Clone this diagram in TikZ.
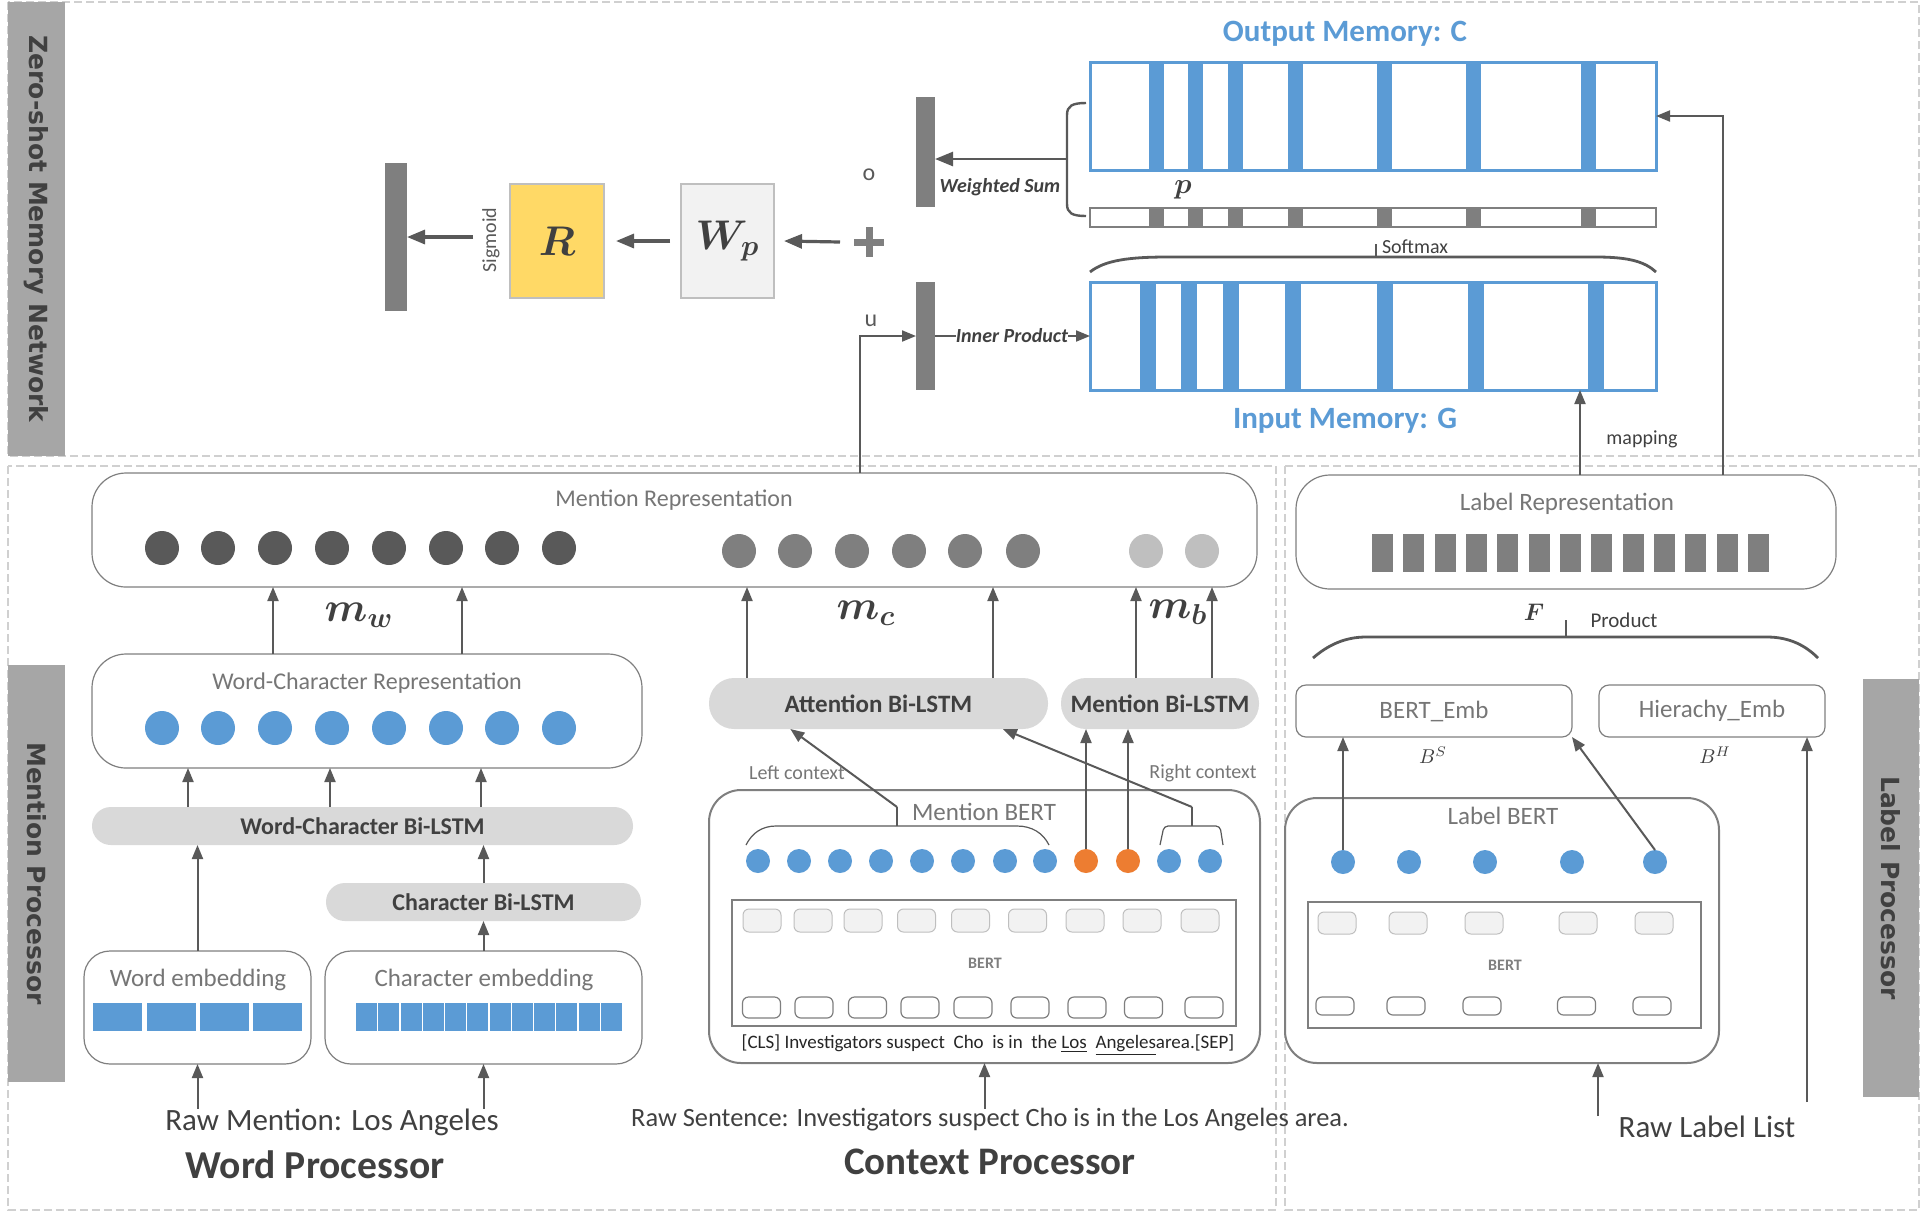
\documentclass[tikz,border=0pt]{standalone}
\usepackage{fontspec}
\setmainfont{Carlito}
\newfontfamily\bandfont{DejaVu Sans}
\usepackage{amsmath}
\usetikzlibrary{arrows.meta,calc}
\definecolor{ablue}{HTML}{5B9BD5}
\definecolor{aorange}{HTML}{ED7D31}
\definecolor{ayellow}{HTML}{FFD966}
\definecolor{dgrey}{HTML}{595959}
\definecolor{mgrey}{HTML}{7F7F7F}
\definecolor{lgrey}{HTML}{BFBFBF}
\definecolor{pillgrey}{HTML}{D9D9D9}
\definecolor{bandgrey}{HTML}{A6A6A6}
\definecolor{tgrey}{HTML}{404040}
\definecolor{labgrey}{HTML}{767676}
\definecolor{dashgrey}{HTML}{D0D0D0}
\definecolor{boxfill}{HTML}{F2F2F2}
\newcommand{\myfs}[1]{\fontsize{#1pt}{#1pt}\selectfont}
\begin{document}
\begin{tikzpicture}[x=0.5pt,y=-0.5pt,
  every node/.style={inner sep=0pt, outer sep=0pt},
  wh/.style 2 args={minimum width={#1*0.5pt},minimum height={#2*0.5pt}},
  arr/.style={draw=dgrey, line width=1pt, -{Triangle[length=7pt,width=5.5pt]}},
  bigarr/.style={draw=dgrey, line width=1.6pt, -{Triangle[length=9pt,width=7pt]}},
  region/.style={draw=dashgrey, line width=0.6pt, dash pattern=on 4pt off 2pt},
  band/.style={fill=bandgrey, draw=none},
  bandtxt/.style={font={\bandfont\bfseries\myfs{12.5}}, text=tgrey, rotate=-90},
  rbox/.style={draw=mgrey, line width=0.6pt, rounded corners=17pt, fill=white},
  pill/.style={fill=pillgrey, font={\bfseries\myfs{12}}, text=tgrey},
  lab/.style={text=labgrey, font={\myfs{12}}},
  small/.style={text=tgrey, font={\myfs{10}}},
  topbox/.style={fill=boxfill, draw=lgrey, line width=0.5pt, rounded corners=3pt},
  botbox/.style={fill=white, draw=mgrey, line width=0.6pt, rounded corners=3pt},
  thinline/.style={draw=dgrey, line width=0.6pt},
  memtitle/.style={font={\bfseries\myfs{15.5}}, text=ablue},
  mlabel/.style={font={\myfs{21}}, text=tgrey}
]
\useasboundingbox (0,0) rectangle (1922,1212);

% regions
\draw[region] (8,2) rectangle (1919,456);
\draw[region] (8,466) rectangle (1276,1210);
\draw[region] (1285,466) rectangle (1919,1210);

% side bands
\node[band, wh={57}{454}] (bandZ) at (36.5,229) {};
\node[bandtxt] (bandZt) at (bandZ) {Zero-shot Memory Network};
\node[band, wh={57}{417}] (bandM) at (36.5,873.5) {};
\node[bandtxt] (bandMt) at (bandM) {Mention Processor};
\node[band, wh={56}{418}] (bandL) at (1891,888) {};
\node[bandtxt] (bandLt) at (bandL) {Label Processor};

% ===== top: memory network =====
\node[fill=mgrey, wh={22}{148}] (sbar) at (396,237) {};
\node[fill=ayellow, draw=lgrey, line width=0.6pt, wh={94}{114}, font={\myfs{20}}, text=tgrey] (R) at (557,241) {$\boldsymbol{R}$};
\node[font={\myfs{10}}, text=dgrey, rotate=90] (sig) at (491,240) {Sigmoid};
\node[fill=boxfill, draw=lgrey, line width=0.6pt, wh={93}{114}, font={\myfs{20}}, text=tgrey] (Wp) at (727.5,241) {$\boldsymbol{W_p}$};
\node[wh={30}{30}] (plus) at (869,242) {};
\draw[mgrey, line width=3.5pt] (plus.north) -- (plus.south) (plus.west) -- (plus.east);
\node[font={\myfs{12}}, text=dgrey] (o) at (869,175) {o};
\node[font={\myfs{12}}, text=dgrey] (u) at (871,321) {u};
\node[fill=mgrey, wh={19}{110}] (obar) at (925.5,152) {};
\node[fill=mgrey, wh={19}{108}] (ubar) at (925.5,336) {};

\draw[bigarr] ($(plus.west)+(-14,0)$) -- ($(Wp.east)+(10,0)$);
\draw[bigarr] ($(Wp.west)+(-11,0)$) -- ($(R.east)+(12,0)$);
\draw[bigarr] ($(sbar.east)+(66,0)$) -- (sbar.east);

% output memory
\foreach \x in {1156,1195.5,1235.5,1295.5,1384.5,1473,1588.5}
  \fill[ablue] (\x-7.5,62) rectangle (\x+7.5,170);
\node[draw=ablue, line width=1.5pt, wh={566}{108}] (outmem) at (1373,116) {};
% p bar
\foreach \x in {1156,1195.5,1235.5,1295.5,1384.5,1473,1588.5}
  \fill[mgrey] (\x-7.5,208) rectangle (\x+7.5,227);
\node[draw=mgrey, line width=1.2pt, wh={566}{19}] (pbar) at (1373,217.5) {};
% input memory
\foreach \x in {1148,1189,1230.5,1293,1384.5,1475.5,1596}
  \fill[ablue] (\x-8,282) rectangle (\x+8,390);
\node[draw=ablue, line width=1.5pt, wh={566}{108}] (inmem) at (1373,336) {};

\node[memtitle] (outt) at (1345,34) {Output Memory: C};
\node[memtitle] (int) at (1345,421) {Input Memory: G};

% weighted sum brace
\draw[dgrey, line width=1.2pt] (1086,103) .. controls (1072,103) and (1067,106) .. (1067,115) -- (1067,204) .. controls (1067,213) and (1072,216) .. (1086,216);
\coordinate (ws) at (1067,159);
\draw[bigarr, line width=1.3pt] (ws) -- (ws -| obar.east);
\node[font={\bfseries\itshape\myfs{10}}, text=tgrey] (wst) at (1000,187) {Weighted Sum};
\node[font={\myfs{14}}, text=tgrey] (plab) at (1183,190) {$\boldsymbol{p}$};

% softmax brace
\draw[dgrey, line width=1.4pt] (1090,272) .. controls (1105,260) and (1130,257) .. (1168,257) -- (1596,257) .. controls (1630,257) and (1645,262) .. (1656,272);
\coordinate (smt) at (1376,257);
\draw[dgrey, line width=1pt] (smt) -- ++(0,-13);
\node[anchor=west, small] (smx) at (1382,247) {Softmax};

% inner product
\node[font={\bfseries\itshape\myfs{10}}, text=tgrey] (ip) at (1012,336) {Inner Product};
\draw[dgrey, line width=1pt] (ubar.east) -- (ip.west);
\draw[arr] (ip.east) -- (inmem.west);

% ===== mention representation =====
\node[rbox, wh={1165}{114}] (menrep) at (674.5,530) {};
\node[lab] (menrept) at (674,500) {Mention Representation};
\foreach \x [count=\i] in {162,218,275,332,389,446,502,559}
  \node[circle, fill=dgrey, wh={34}{34}] (md\i) at (\x,548) {};
\foreach \x [count=\i] in {739,795,852,909,965,1023}
  \node[circle, fill=mgrey, wh={34}{34}] (mg\i) at (\x,551) {};
\foreach \x [count=\i] in {1146,1202}
  \node[circle, fill=lgrey, wh={34}{34}] (ml\i) at (\x,551) {};

% u arrow
\coordinate (ucor) at (860,336);
\draw[arr] (ucor |- menrep.north) |- (ubar.west);

% word-character representation
\node[rbox, wh={550}{114}] (wcrep) at (367,711) {};
\node[lab] (wcrept) at (367,683) {Word-Character Representation};
\foreach \x [count=\i] in {162,218,275,332,389,446,502,559}
  \node[circle, fill=ablue, wh={34}{34}] (wc\i) at (\x,728) {};

\coordinate (mwa) at (273,0);
\coordinate (mwb) at (462,0);
\draw[arr] (mwa |- wcrep.north) -- (mwa |- menrep.south);
\draw[arr] (mwb |- wcrep.north) -- (mwb |- menrep.south);
\node[mlabel] (mw) at (359,615) {$\boldsymbol{m_w}$};

\node[pill, wh={541}{38}, rounded corners=9.4pt] (wcbil) at (362.5,826) {Word-Character Bi-LSTM};
\foreach \x [count=\i] in {188,330,481} {
  \coordinate (wca\i) at (\x,0);
  \draw[arr] (wca\i |- wcbil.north) -- (wca\i |- wcrep.south);
}
\node[pill, wh={315}{38}, rounded corners=9.4pt] (cbil) at (483.5,902) {Character Bi-LSTM};
\draw[arr] (cbil.north) -- (cbil.north |- wcbil.south);

% embeddings
\node[rbox, rounded corners=13pt, wh={227}{113}] (wemb) at (197.5,1007.5) {};
\node[lab, font={\myfs{12.5}}] (wembt) at (198,980) {Word embedding};
\foreach \x in {93,146.5,200,252.5}
  \fill[ablue] (\x,1003) rectangle +(49,28);
\node[rbox, rounded corners=13pt, wh={317}{113}] (cemb) at (483.5,1007.5) {};
\node[lab, font={\myfs{12.5}}] (cembt) at (484,980) {Character embedding};
\foreach \i in {0,...,11}
  \fill[ablue] (356+\i*22.25,1003) rectangle +(21.2,28);
\draw[arr] (wemb.north) -- (wemb.north |- wcbil.south);
\draw[arr] (cemb.north) -- (cemb.north |- cbil.south);

\node[font={\myfs{15.5}}, text=tgrey] (rawm) at (332,1122) {Raw Mention: Los Angeles};
\draw[arr] (wemb.south |- rawm.north) -- (wemb.south);
\draw[arr] (cemb.south |- rawm.north) -- (cemb.south);
\node[font={\bfseries\myfs{19.8}}, text=tgrey] (wproc) at (315,1165) {Word Processor};

% ===== context =====
\node[pill, font={\bfseries\myfs{12.5}}, wh={339}{51}, rounded corners=12.5pt] (attn) at (878.5,703.5) {Attention Bi-LSTM};
\node[pill, font={\bfseries\myfs{12.5}}, wh={198}{51}, rounded corners=12.5pt] (mbil) at (1160,703.5) {Mention Bi-LSTM};
\foreach \x [count=\i] in {747,993} {
  \coordinate (mca\i) at (\x,0);
  \draw[arr] (mca\i |- attn.north) -- (mca\i |- menrep.south);
}
\foreach \x [count=\i] in {1136,1212} {
  \coordinate (mba\i) at (\x,0);
  \draw[arr] (mba\i |- mbil.north) -- (mba\i |- menrep.south);
}
\node[mlabel] (mc) at (866,613) {$\boldsymbol{m_c}$};
\node[mlabel] (mb) at (1178,612) {$\boldsymbol{m_b}$};

\node[rbox, rounded corners=16pt, line width=1pt, wh={551}{273}] (menbert) at (984.5,926.5) {};
\node[lab, font={\myfs{12.5}}] (menbertt) at (984,812) {Mention BERT};
\foreach \x [count=\i] in {758,799,840,881,922,963,1005,1045,1086,1128,1169,1210} {
  \ifnum\i>8 \ifnum\i<11 \def\cc{aorange}\else\def\cc{ablue}\fi \else\def\cc{ablue}\fi
  \node[circle, fill=\cc, wh={24}{24}] (mb\i) at (\x,861) {};
}
\draw[thinline] (746,845) .. controls (752,833) and (762,826) .. (776,826) -- (1017,826) .. controls (1032,826) and (1043,833) .. (1049,845);
\draw[thinline, rounded corners=2pt] (1160,845) -- (1164,826) -- (1220,826) -- (1223,845);
\coordinate (lc) at (897,807);
\coordinate (rc) at (1192,807);
\draw[thinline] (lc) -- (lc |- 0,826);
\draw[thinline] (rc) -- (rc |- 0,826);
\draw[arr] (lc) -- ($(attn.south west)!0.24!(attn.south east)$);
\draw[arr] (rc) -- ($(attn.south west)!0.867!(attn.south east)$);
\draw[arr] (mb9.north) -- (mb9.north |- mbil.south);
\draw[arr] (mb10.north) -- (mb10.north |- mbil.south);
\node[font={\myfs{10}}, text=labgrey] (lct) at (797,773) {Left context};
\node[font={\myfs{10}}, text=labgrey] (rct) at (1203,773) {Right context};

\node[draw=mgrey, line width=1.2pt, wh={504}{126}] (bert1) at (984,963) {};
\foreach \x [count=\i] in {762,813,863,916.5,970.5,1027.5,1085,1142,1200}
  \node[topbox, wh={38}{23}] (bt\i) at (\x,920.5) {};
\foreach \x [count=\i] in {761.5,814,867.5,920,973,1030,1087,1143.5,1204}
  \node[botbox, wh={38}{21}] (bb\i) at (\x,1007.5) {};
\node[font={\bfseries\myfs{8}}, text=mgrey] (bert1t) at (985,963) {BERT};
\node[font={\myfs{9.5}}, text=black!85] (sent) at (988,1045) {[CLS] Investigators suspect\ \ Cho\ \ is in\ \ the \underline{Los}\ \ \underline{Angeles}area.[SEP]};

\node[font={\myfs{13.2}}, text=tgrey] (raws) at (990,1120) {Raw Sentence: Investigators suspect Cho is in the Los Angeles area.};
\draw[arr] (menbert.south |- raws.north) -- (menbert.south);
\node[font={\bfseries\myfs{19.5}}, text=tgrey] (cproc) at (990,1162) {Context Processor};

% ===== label processor =====
\node[rbox, wh={540}{114}] (labrep) at (1566,532) {};
\node[lab, font={\myfs{12.5}}] (labrept) at (1567,504) {Label Representation};
\foreach \i in {0,...,12}
  \fill[mgrey] (1372+\i*31.33,534) rectangle +(21,38);

\coordinate (mapx) at (1580,0);
\draw[arr] (mapx |- labrep.north) -- (mapx |- inmem.south);
\node[small] (mapt) at (1642,439) {mapping};
\coordinate (cx) at (1723,0);
\draw[arr] (cx |- labrep.north) |- (outmem.east);

\node[font={\myfs{13}}, text=tgrey] (F) at (1534,612) {$\boldsymbol{F}$};
\coordinate (pt) at (1566,637);
\draw[dgrey, line width=1pt] (pt) -- ++(0,-17);
\node[small, font={\myfs{10.5}}] (prod) at (1624,620) {Product};
\draw[dgrey, line width=1.4pt] (1313,658) .. controls (1328,645) and (1345,637) .. (1366,637) -- (1767,637) .. controls (1790,637) and (1806,646) .. (1818,658);

\node[draw=mgrey, line width=0.6pt, rounded corners=5pt, wh={276}{52}, lab, font={\myfs{12.5}}] (bemb) at (1434,711) {BERT\_Emb};
\node[draw=mgrey, line width=0.6pt, rounded corners=5pt, wh={226}{52}, lab, font={\myfs{12.5}}] (hemb) at (1712,711) {Hierachy\_Emb};
\node[small] (bs) at (1433,755) {$B^S$};
\node[small] (bh) at (1715,755) {$B^H$};

\node[rbox, rounded corners=16pt, line width=1pt, wh={434}{265}] (labbert) at (1502,930.5) {};
\node[lab, font={\myfs{12.5}}] (labbertt) at (1503,816) {Label BERT};
\foreach \x [count=\i] in {1343,1409,1485,1572,1655}
  \node[circle, fill=ablue, wh={24}{24}] (lb\i) at (\x,862) {};
\node[draw=mgrey, line width=1.2pt, wh={393}{126}] (bert2) at (1504.5,965) {};
\foreach \x [count=\i] in {1337,1408,1484,1578,1654}
  \node[topbox, wh={38}{22}] (lt\i) at (\x,923) {};
\foreach \x [count=\i] in {1335,1406,1482,1576.5,1652}
  \node[botbox, wh={38}{18}] (lbb\i) at (\x,1006) {};
\node[font={\bfseries\myfs{8}}, text=mgrey] (bert2t) at (1505,965) {BERT};

\draw[arr] (lb1.north) -- (lb1.north |- bemb.south);
\draw[arr] (lb5.north) -- (bemb.south east);

\node[font={\myfs{15.5}}, text=tgrey] (rawl) at (1707,1127) {Raw Label List};
\coordinate (rl) at (1598,0);
\draw[arr] (rl |- rawl.north) -- (rl |- labbert.south);
\coordinate (hx) at (1807,1102);
\draw[arr] (hx) -- (hx |- hemb.south);
\end{tikzpicture}
\end{document}
